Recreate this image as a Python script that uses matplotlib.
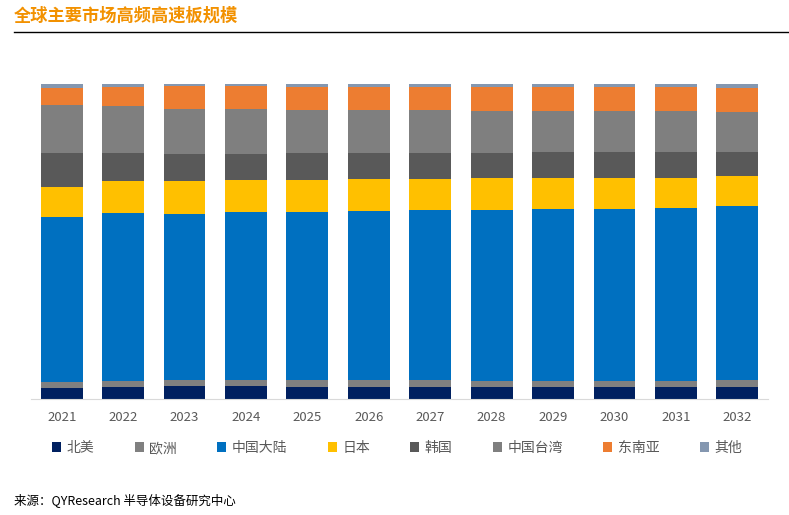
import numpy as np
import matplotlib.pyplot as plt

plt.rcParams['font.family'] = ['Noto Sans CJK SC', 'DejaVu Sans']

# years on the x axis
years = ['2021', '2022', '2023', '2024', '2025', '2026',
         '2027', '2028', '2029', '2030', '2031', '2032']

# share of each region (%), bottom to top
north_america = [3.4, 3.8, 4.1, 4.1, 3.7, 3.7, 3.7, 3.7, 3.7, 3.7, 3.7, 3.7]
europe        = [1.9, 1.8, 1.9, 1.9, 2.3, 2.3, 2.3, 1.9, 1.9, 1.9, 1.9, 2.3]
china         = [52.5, 53.4, 52.6, 53.3, 53.3, 53.6, 53.9, 54.3, 54.7, 54.6, 55.0, 55.2]
japan         = [9.5, 10.3, 10.6, 10.3, 10.2, 10.3, 10.0, 10.2, 9.9, 10.0, 9.5, 9.5]
korea         = [10.7, 8.8, 8.5, 8.2, 8.6, 8.2, 8.2, 7.9, 8.3, 8.3, 8.3, 7.6]
taiwan        = [15.1, 14.9, 14.3, 14.3, 13.7, 13.7, 13.7, 13.3, 13.0, 13.0, 13.0, 12.7]
se_asia       = [5.5, 5.9, 7.3, 7.3, 7.4, 7.4, 7.4, 7.7, 7.7, 7.7, 7.7, 7.6]
others        = [1.3, 1.1, 0.6, 0.6, 0.8, 0.8, 0.8, 0.8, 0.8, 0.8, 0.8, 1.3]

labels = ['北美', '欧洲', '中国大陆', '日本', '韩国', '中国台湾', '东南亚', '其他']
colors = ['#002060', '#808080', '#0070C0', '#FFC000',
          '#595959', '#7F7F7F', '#ED7D31', '#8497B0']

series = np.array([north_america, europe, china, japan,
                   korea, taiwan, se_asia, others])
# stack as 100%
series = series / series.sum(axis=0) * 100

fig = plt.figure(figsize=(7.89, 5.15), dpi=100)
ax = fig.add_axes([31 / 789, 116.3 / 515, 737 / 789, 314.7 / 515])

x = np.arange(len(years))
bottom = np.zeros(len(years))
for vals, lab, col in zip(series, labels, colors):
    ax.bar(x, vals, width=0.68, bottom=bottom, color=col, label=lab)
    bottom += vals

ax.set_xlim(-0.5, len(years) - 0.5)
ax.set_ylim(0, 100)
ax.set_xticks(x)
ax.set_xticklabels(years, fontsize=9.5, color='#595959')
ax.tick_params(axis='x', length=0, pad=9)
ax.set_yticks([])
for side in ['left', 'right', 'top']:
    ax.spines[side].set_visible(False)
ax.spines['bottom'].set_color('#D9D9D9')

handles, labs = ax.get_legend_handles_labels()
leg = fig.legend(handles, labs, loc='center', bbox_to_anchor=(397 / 789, 1 - 448 / 515),
                 ncol=8, frameon=False, fontsize=10, handlelength=0.65, handleheight=0.65,
                 handletextpad=0.4, columnspacing=2.9)
for t in leg.get_texts():
    t.set_color('#595959')

# title and rule
fig.text(14 / 789, 1 - 16 / 515, '全球主要市场高频高速板规模', fontsize=12.4,
         fontweight='bold', color='#F29100', va='center', ha='left')
fig.add_artist(plt.Line2D([14 / 789, 1.0], [1 - 32 / 515, 1 - 32 / 515],
                          color='black', lw=1))

fig.text(14 / 789, 1 - 500 / 515, '来源：QYResearch 半导体设备研究中心', fontsize=9,
         color='black', va='center', ha='left')

fig.savefig('out.png', dpi=100)
